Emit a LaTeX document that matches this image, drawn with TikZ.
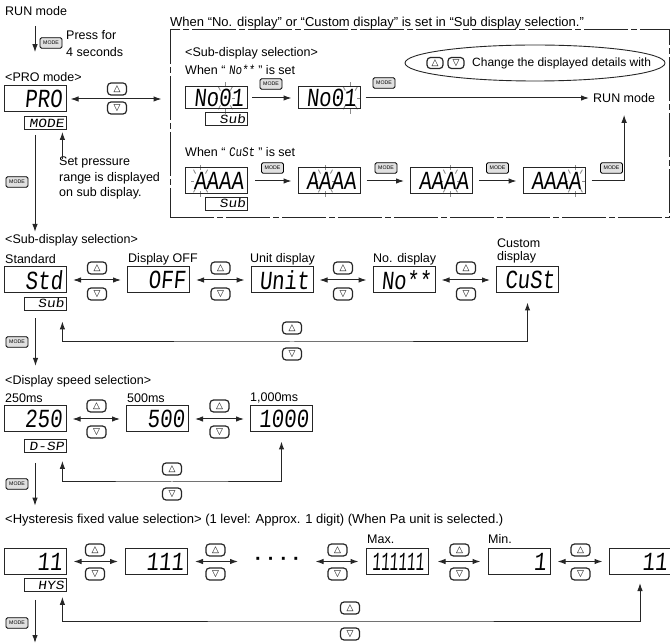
\documentclass[tikz,border=0pt]{standalone}
\usepackage{fontspec}
\setmainfont{Liberation Sans}
\newfontfamily\lcdfont{Liberation Mono}[FakeSlant=0.12]
\newfontfamily\symfont{DejaVu Sans}
\usetikzlibrary{arrows.meta,calc,backgrounds,shapes.geometric}

\newcommand{\lcd}[2][1.15]{{\lcdfont\fontsize{18}{18}\selectfont\scalebox{#1}[1.45]{#2}}}
\newcommand{\lcds}[1]{{\lcdfont\fontsize{10}{10}\selectfont\scalebox{1.45}[1.25]{#1}}}
\newcommand{\lcdi}[1]{{\lcdfont\fontsize{9}{9}\selectfont\scalebox{1.2}[1.45]{#1}}}
\newcommand{\blink}[2]{%
  \foreach \a in {0,45,...,315}
    \draw[blinkline] ($(#1.east)+({-4-(4.5-#2)*12.42+7*cos(\a)},{10.5*sin(\a)})$)
      -- ($(#1.east)+({-4-(4.5-#2)*12.42+10*cos(\a)},{16*sin(\a)})$);}

\begin{document}
\begin{tikzpicture}[>={Latex[length=8pt,width=5.5pt]}, x=1pt, y=-1pt]
  \tikzset{
    txt/.style={anchor=west, inner sep=0pt, font=\fontsize{12.5}{17}\selectfont, align=left},
    disp/.style={draw=black!85, line width=1pt, minimum width=62pt, minimum height=26pt, inner xsep=4pt, inner ysep=0pt, text width=54pt, align=right},
    sdisp/.style={disp, minimum height=22pt},
    subdisp/.style={draw=black!85, line width=0.8pt, minimum width=42pt, minimum height=13pt, inner xsep=2pt, inner ysep=0pt, text width=38pt, align=right},
    modebtn/.style={draw=black, fill=black!12, line width=0.9pt, rounded corners=1.5pt, minimum width=22pt, minimum height=10.5pt, inner sep=0pt, font=\fontsize{5.2}{5.2}\selectfont},
    keybtn/.style={draw=black!85, line width=1.2pt, rounded corners=3.5pt, minimum width=19pt, minimum height=12pt, inner sep=0pt, font=\symfont\fontsize{9}{9}\selectfont},
    arr/.style={->, draw=black!85, line width=1pt},
    dbl/.style={<->, draw=black!85, line width=1pt},
    frame/.style={draw=black!85, line width=1pt, dash pattern=on 44pt off 3pt on 6pt off 3pt},
    blinkline/.style={draw=black!45, line width=0.9pt},
  }
  \useasboundingbox (0,0) rectangle (670,644);

  % RUN mode -> PRO mode
  \node[txt] (run0) at (5,11) {RUN mode};
  \node[modebtn] (mode1) at (51,43) {MODE};
  \node[txt] (press) at (66,43.5) {Press for\\4 seconds};
  \node[txt] (protitle) at (5,77) {<PRO mode>};
  \node[disp] (pro) at (35,99) {\lcd{PRO}};
  \node[subdisp] (prosub) at (45,123) {\lcds{MODE}};
  \node[keybtn] (pup) at (117,89) {△};
  \node[keybtn] (pdn) at (117,108) {▽};
  \node[txt, font=\fontsize{12.5}{15.5}\selectfont] (setp) at (59,178) {Set pressure\\range is displayed\\on sub display.};
  \node[modebtn] (mode2) at (17,182) {MODE};
  \draw[arr] ([yshift=-10pt]run0.south -| pro.north) -- ([yshift=20pt]protitle.north -| pro.north);
  \draw[arr] ([yshift=-2pt]setp.north west -| prosub.east) ++(-4,0) -- ([xshift=-4pt,yshift=-2pt]prosub.south east);

  % sub display frame
  \node[frame, minimum width=499pt, minimum height=188pt, inner sep=0pt] (frame) at (419.5,124) {};
  \node[txt, font=\fontsize{13}{17}\selectfont] (frametitle) at (170,23.5) {When “No. display” or “Custom display” is set in “Sub display selection.”};
  \draw[dbl] ([xshift=4pt]pro.east) -- ([xshift=-8pt]frame.west |- pro.center);
  \node[txt] (fsub) at (185,53) {<Sub-display selection>};
  \node[txt] (whenno) at (185,70) {When “ \lcdi{No**} ” is set};
  \node[draw=black!85, line width=0.9pt, ellipse, minimum width=260pt, minimum height=36pt, inner sep=0pt] (hint) at (535,63) {};
  \node[keybtn, minimum width=16pt, minimum height=11pt] (hup) at (435,63) {△};
  \node[keybtn, minimum width=16pt, minimum height=11pt] (hdn) at (456,63) {▽};
  \node[txt, font=\fontsize{12}{15}\selectfont] (hinttxt) at (472,63) {Change the displayed details with};

  \node[sdisp] (noA) at (216.5,98) {\lcd{No01}};
  \node[subdisp] (noAsub) at (226.5,119) {\lcds{Sub}};
  \node[sdisp] (noB) at (329,98) {\lcd{No01}};
  \node[modebtn] (mode3) at (271,84) {MODE};
  \node[modebtn] (mode4) at (384,83) {MODE};
  \node[txt] (run1) at (593,98) {RUN mode};
  \draw[arr] ([xshift=4pt]noA.east) -- ([xshift=-6pt]noB.west);
  \draw[arr] ([xshift=5pt]noB.east) -- ([xshift=-4pt]run1.west);

  \node[txt] (whencu) at (185,152) {When “ \lcdi{CuSt} ” is set};
  \node[disp] (cA) at (216.5,181) {\lcd{AAAA}};
  \node[subdisp] (cAsub) at (226.5,203.5) {\lcds{Sub}};
  \node[disp] (cB) at (329,181) {\lcd{AAAA}};
  \node[disp] (cC) at (441.5,181) {\lcd{AAAA}};
  \node[disp] (cD) at (554,181) {\lcd{AAAA}};
  \node[modebtn] (mode5) at (272.5,168) {MODE};
  \node[modebtn] (mode6) at (386,168) {MODE};
  \node[modebtn] (mode7) at (497.5,168) {MODE};
  \node[modebtn] (mode8) at (611.5,168) {MODE};
  \draw[arr] ([xshift=7pt]cA.east) -- ([xshift=-6pt]cB.west);
  \draw[arr] ([xshift=6pt]cB.east) -- ([xshift=-6pt]cC.west);
  \draw[arr] ([xshift=6pt]cC.east) -- ([xshift=-6pt]cD.west);
  \draw[arr] ([xshift=6pt]cD.east) -| ([yshift=-12pt]run1.south);

  \begin{pgfonlayer}{background}
    \blink{noA}{3}
    \blink{noB}{4}
    \blink{cA}{1}
    \blink{cB}{2}
    \blink{cC}{3}
    \blink{cD}{4}
  \end{pgfonlayer}

  % sub display selection
  \node[txt] (subtitle) at (5,240) {<Sub-display selection>};
  \draw[arr] ([yshift=-5pt]prosub.south -| pro.south) -- ([yshift=2pt]subtitle.north -| pro.south);
  \node[txt] (lstd) at (5,259) {Standard};
  \node[txt] (loff) at (128,259) {Display OFF};
  \node[txt] (lunit) at (250,259) {Unit display};
  \node[txt] (lno) at (373,259) {No. display};
  \node[txt, font=\fontsize{12.5}{13.5}\selectfont] (lcust) at (497,251) {Custom\\display};
  \node[disp] (std) at (35.5,280) {\lcd{Std}};
  \node[disp] (off) at (158.5,280) {\lcd{OFF}};
  \node[disp] (unit) at (282,280) {\lcd{Unit}};
  \node[disp] (nox) at (404,280) {\lcd{No**}};
  \node[disp] (cust) at (527.5,280) {\lcd{CuSt}};
  \node[subdisp] (stdsub) at (45,303.5) {\lcds{Sub}};
  \foreach \x [count=\i] in {97,220.5,343,466} {
    \node[keybtn] (sup\i) at (\x,268) {△};
    \node[keybtn] (sdn\i) at (\x,294) {▽};
  }
  \foreach \a/\b in {std/off,off/unit,unit/nox,nox/cust}
    \draw[dbl] ([xshift=6pt]\a.east) -- ([xshift=-6pt]\b.west);
  \node[keybtn] (sfup) at (292,328) {△};
  \node[keybtn] (sfdn) at (292,354) {▽};
  \coordinate (sfb) at (292,342);
  \draw[dbl] ([xshift=-4pt,yshift=-11pt]stdsub.south east) |- (sfb) -| ([yshift=-9pt]cust.south);
  \node[modebtn] (mode9) at (17,342) {MODE};

  % display speed selection
  \node[txt] (speedtitle) at (5,381) {<Display speed selection>};
  \draw[arr] ([yshift=-8pt]stdsub.south -| std.south) -- ([yshift=9pt]speedtitle.north -| std.south);
  \node[txt] (l250) at (5,398) {250ms};
  \node[txt] (l500) at (127,398) {500ms};
  \node[txt] (l1000) at (250,398) {1,000ms};
  \node[disp] (d250) at (35,419) {\lcd{250}};
  \node[disp] (d500) at (157.5,419) {\lcd{500}};
  \node[disp] (d1000) at (281.5,419) {\lcd{1000}};
  \node[subdisp] (dspsub) at (45,446) {\lcds{D-SP}};
  \foreach \x [count=\i] in {96.5,219.5} {
    \node[keybtn] (dup\i) at (\x,406) {△};
    \node[keybtn] (ddn\i) at (\x,432) {▽};
  }
  \draw[dbl] ([xshift=6pt]d250.east) -- ([xshift=-6pt]d500.west);
  \draw[dbl] ([xshift=6pt]d500.east) -- ([xshift=-6pt]d1000.west);
  \node[keybtn] (dfup) at (172,469) {△};
  \node[keybtn] (dfdn) at (172,494) {▽};
  \coordinate (dfb) at (172,482);
  \draw[dbl] ([xshift=-4pt,yshift=-8pt]dspsub.south east) |- (dfb) -| ([yshift=-9pt]d1000.south);
  \node[modebtn] (mode10) at (17,484) {MODE};

  % hysteresis
  \node[txt, font=\fontsize{13}{17}\selectfont] (hystitle) at (5,520) {<Hysteresis fixed value selection> (1 level: Approx. 1 digit) (When Pa unit is selected.)};
  \draw[arr] ([yshift=-10pt]dspsub.south -| d250.south) -- ([yshift=8pt]hystitle.north -| d250.south);
  \node[txt] (lmax) at (367,539) {Max.};
  \node[txt] (lmin) at (488,539) {Min.};
  \node[disp] (h1) at (35,561.5) {\lcd{11}};
  \node[disp] (h2) at (156.5,561.5) {\lcd{111}};
  \node[disp] (h3) at (397,561.5) {\lcd[0.8]{111111}};
  \node[disp] (h4) at (519,561.5) {\lcd{1}};
  \node[disp] (h5) at (640,561.5) {\lcd{11}};
  \node[inner sep=0pt, font=\bfseries\fontsize{20}{20}\selectfont] (dots) at (277.5,561.5) {·\kern6pt·\kern6pt·\kern6pt·};
  \node[subdisp] (hyssub) at (45,585) {\lcds{HYS}};
  \foreach \x [count=\i] in {95,215.5,337.5,459.5,580.5} {
    \node[keybtn] (hup\i) at (\x,550) {△};
    \node[keybtn] (hdn\i) at (\x,574) {▽};
  }
  \draw[dbl] ([xshift=7pt]h1.east) -- ([xshift=-7pt]h2.west);
  \draw[dbl] ([xshift=7pt]h2.east) -- ++(43,0);
  \draw[dbl] ([xshift=-7pt]h3.west) -- ++(-43,0);
  \draw[dbl] ([xshift=9pt]h3.east) -- ([xshift=-7pt]h4.west);
  \draw[dbl] ([xshift=7pt]h4.east) -- ([xshift=-6pt]h5.west);
  \node[keybtn] (hfup) at (350,608) {△};
  \node[keybtn] (hfdn) at (350,634) {▽};
  \coordinate (hfb) at (350,621);
  \draw[dbl] ([xshift=-4pt,yshift=-5pt]hyssub.south east) |- (hfb) -| ([yshift=-8pt]h5.south);
  \node[modebtn] (mode11) at (17,623) {MODE};
  \coordinate (hend) at (35,643);
  \draw[arr] ([yshift=-8pt]hyssub.south -| h1.south) -- (hend);
\end{tikzpicture}
\end{document}
